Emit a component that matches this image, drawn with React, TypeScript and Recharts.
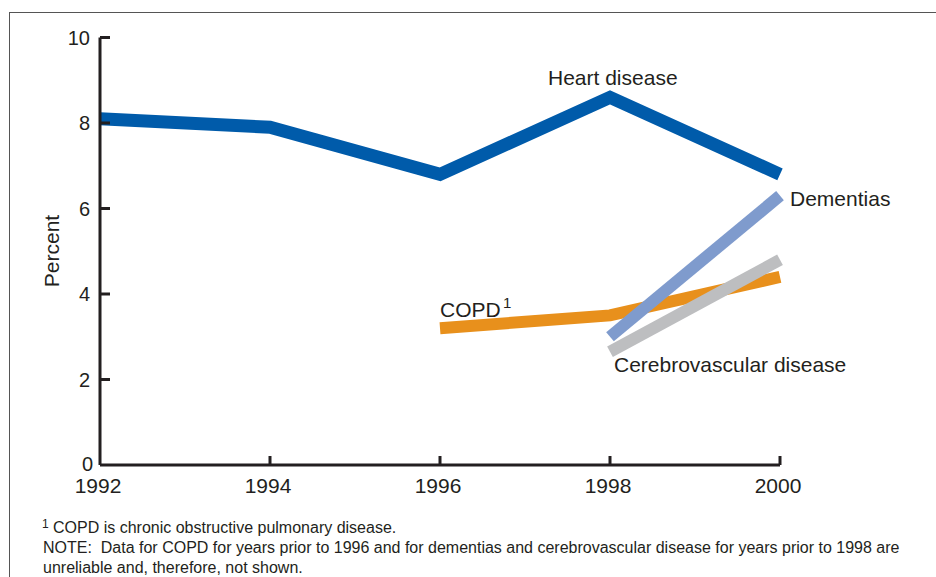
import React from 'react';
import { LineChart, Line, XAxis, YAxis } from 'recharts';

const years = [1992, 1994, 1996, 1998, 2000];
const heartDisease = [8.1, 7.9, 6.8, 8.6, 6.8];
const copd = [null, null, 3.2, 3.5, 4.4];
const dementias = [null, null, null, 3.0, 6.3];
const cerebrovascular = [null, null, null, 2.65, 4.8];
const xTicks = [1992, 1994, 1996, 1998, 2000];
const yTicks = [0, 2, 4, 6, 8, 10];

const data = years.map((year, i) => ({
  year,
  heart: heartDisease[i],
  copd: copd[i],
  dementias: dementias[i],
  cerebro: cerebrovascular[i],
}));

const FONT = '"Liberation Sans", Arial, Helvetica, sans-serif';
const INK = '#231f20';
const GAP = 8;

const YTick = (props: any) => {
  const { x, y, payload } = props;
  const ax = x + GAP;
  const isZero = payload.value === 0;
  return (
    <g>
      {!isZero && (
        <line x1={ax} x2={ax + 10} y1={y} y2={y} stroke={INK} strokeWidth={3} />
      )}
      <text x={ax - (isZero ? 7 : 10)} y={y} dy={isZero ? 6 : 7} textAnchor="end" fontSize={20} fontFamily={FONT} fill={INK}>
        {payload.value}
      </text>
    </g>
  );
};

const XTick = (props: any) => {
  const { x, y, payload } = props;
  const ay = y - GAP;
  return (
    <g>
      {payload.value !== 1992 && (
        <line x1={x} x2={x} y1={ay} y2={ay - 9} stroke={INK} strokeWidth={3} />
      )}
      <text x={x - 2} y={ay + 28} textAnchor="middle" fontSize={21} fontFamily={FONT} fill={INK}>
        {payload.value}
      </text>
    </g>
  );
};

export default function App() {
  return (
    <div style={{ position: 'absolute', left: 0, top: 0, width: 936, height: 577, background: '#fff', overflow: 'hidden' }}>
      <div style={{ position: 'absolute', left: 9, top: 12, width: 1000, height: 700, borderTop: '1.5px solid #555', borderLeft: '1.5px solid #555' }} />
      <LineChart width={936} height={577} data={data} margin={{ top: 37.5, right: 156, bottom: 72, left: 40 }}>
        <XAxis
          dataKey="year"
          type="number"
          domain={[1992, 2000]}
          ticks={xTicks}
          height={40}
          tickSize={0}
          tickMargin={GAP}
          tickLine={false}
          axisLine={{ stroke: INK, strokeWidth: 3 }}
          tick={<XTick />}
          interval={0}
        />
        <YAxis
          type="number"
          domain={[0, 10]}
          ticks={yTicks}
          width={60}
          tickSize={0}
          tickMargin={GAP}
          tickLine={false}
          axisLine={{ stroke: INK, strokeWidth: 3 }}
          tick={<YTick />}
          interval={0}
        />
        <Line dataKey="copd" stroke="#e8901c" strokeWidth={12} dot={false} isAnimationActive={false} type="linear" />
        <Line dataKey="cerebro" stroke="#bdbec0" strokeWidth={12} dot={false} isAnimationActive={false} type="linear" />
        <Line dataKey="dementias" stroke="#7f9bcd" strokeWidth={12} dot={false} isAnimationActive={false} type="linear" />
        <Line dataKey="heart" stroke="#005baa" strokeWidth={13} dot={false} isAnimationActive={false} type="linear" />
      </LineChart>
      <svg width={936} height={577} style={{ position: 'absolute', left: 0, top: 0, pointerEvents: 'none' }} fontFamily={FONT} fill={INK}>
        <text x={52} y={251} dy={7} fontSize={21} textAnchor="middle" transform="rotate(-90 52 251)">Percent</text>
        <text x={548} y={85} fontSize={21}>Heart disease</text>
        <text x={790} y={206} fontSize={21}>Dementias</text>
        <text x={440} y={317} fontSize={21}>COPD</text>
        <text x={503} y={308} fontSize={15}>1</text>
        <text x={614} y={372} fontSize={21}>Cerebrovascular disease</text>
        <text x={42} y={528} fontSize={12}>1</text>
        <text x={53} y={533} fontSize={16}>COPD is chronic obstructive pulmonary disease.</text>
        <text x={43} y={553} fontSize={16} style={{ whiteSpace: 'pre' }}>NOTE:  Data for COPD for years prior to 1996 and for dementias and cerebrovascular disease for years prior to 1998 are</text>
        <text x={43} y={573} fontSize={16}>unreliable and, therefore, not shown.</text>
      </svg>
    </div>
  );
}
